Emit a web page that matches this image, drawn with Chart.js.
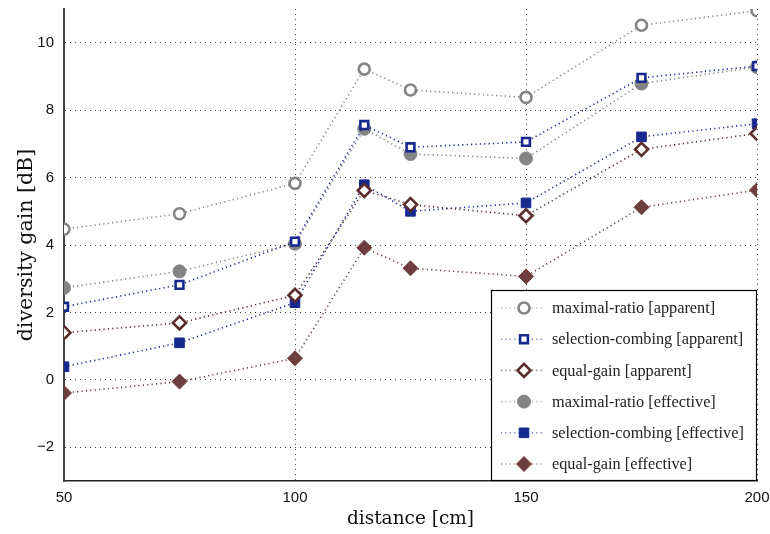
<!DOCTYPE html>
<html>
<head>
<meta charset="utf-8">
<script src="https://cdn.jsdelivr.net/npm/chart.js@4/dist/chart.umd.min.js"></script>
<style>
  html, body { margin: 0; padding: 0; background: #fff; }
  #wrap { width: 770px; height: 534px; position: relative; }
</style>
</head>
<body>
<div id="wrap"><canvas id="chart"></canvas></div>
<script>
// datos
const distancias = [50, 75, 100, 115, 125, 150, 175, 200];
const ticksX = [50, 100, 150, 200];
const ticksY = [-2, 0, 2, 4, 6, 8, 10];

const mrAparente = [4.47, 4.93, 5.83, 9.22, 8.6, 8.38, 10.52, 10.95];
const scAparente = [2.17, 2.82, 4.1, 7.56, 6.9, 7.06, 8.96, 9.31];
const egAparente = [1.4, 1.69, 2.51, 5.62, 5.2, 4.87, 6.84, 7.31];
const mrEfectivo = [2.73, 3.22, 4.04, 7.45, 6.7, 6.57, 8.79, 9.28];
const scEfectivo = [0.39, 1.1, 2.29, 5.79, 5.0, 5.25, 7.21, 7.6];
const egEfectivo = [-0.39, -0.05, 0.64, 3.92, 3.31, 3.07, 5.12, 5.63];

const etiquetas = [
  'maximal-ratio [apparent]',
  'selection-combing [apparent]',
  'equal-gain [apparent]',
  'maximal-ratio [effective]',
  'selection-combing [effective]',
  'equal-gain [effective]'
];

const gris = '#848484';
const azul = '#16298f';
const marronOsc = '#5a2c2c';
const marron = '#6e3e3e';

function puntos(vals) {
  return distancias.map((x, i) => ({ x, y: vals[i] }));
}

function serie(label, vals, color, estilo, hueco, radio) {
  return {
    label,
    data: puntos(vals),
    borderColor: color,
    backgroundColor: color,
    borderWidth: 1.6,
    borderDash: [1.2, 3.2],
    pointStyle: estilo,
    pointRadius: radio,
    pointBackgroundColor: hueco ? '#fff' : color,
    pointBorderColor: color,
    pointBorderWidth: hueco ? 2.6 : 1,
    tension: 0,
    fill: false
  };
}

const datasets = [
  serie(etiquetas[0], mrAparente, gris, 'circle', true, 5.5),
  serie(etiquetas[1], scAparente, azul, 'rect', true, 5.5),
  serie(etiquetas[2], egAparente, marronOsc, 'rectRot', true, 6.5),
  serie(etiquetas[3], mrEfectivo, gris, 'circle', false, 6.5),
  serie(etiquetas[4], scEfectivo, azul, 'rect', false, 6.8),
  serie(etiquetas[5], egEfectivo, marron, 'rectRot', false, 7.5)
];

// leyenda dentro del area
const leyendaPlugin = {
  id: 'leyendaCaja',
  afterDraw(chart) {
    const ctx = chart.ctx;
    const area = chart.chartArea;
    const w = 266, h = 191;
    const x0 = area.right - w, y0 = area.bottom - h;
    ctx.save();
    ctx.fillStyle = '#fff';
    ctx.fillRect(x0, y0, w, h);
    ctx.strokeStyle = '#000';
    ctx.lineWidth = 1.2;
    ctx.strokeRect(x0 + 0.5, y0 + 0.5, w - 1, h - 1);
    ctx.font = '16.3px "Liberation Serif", "DejaVu Serif", serif';
    ctx.textBaseline = 'middle';
    chart.data.datasets.forEach((ds, i) => {
      const y = y0 + 18 + i * 31.2;
      ctx.strokeStyle = ds.borderColor;
      ctx.globalAlpha = 0.6;
      ctx.lineWidth = 1.6;
      ctx.setLineDash([1.2, 3.2]);
      ctx.beginPath();
      ctx.moveTo(x0 + 10, y);
      ctx.lineTo(x0 + 52, y);
      ctx.stroke();
      ctx.setLineDash([]);
      ctx.globalAlpha = 1;
      ctx.fillStyle = ds.pointBackgroundColor;
      ctx.strokeStyle = ds.pointBorderColor;
      ctx.lineWidth = ds.pointBorderWidth;
      Chart.helpers.drawPoint(ctx, { pointStyle: ds.pointStyle, radius: ds.pointRadius, rotation: 0, borderWidth: ds.pointBorderWidth }, x0 + 33, y);
      ctx.fillStyle = '#222';
      ctx.fillText(ds.label, x0 + 61, y + 1);
    });
    ctx.restore();
  }
};

const fuenteTicks = { family: '"Liberation Sans", Arial, sans-serif', size: 15 };
const serif = '"DejaVu Serif", "Liberation Serif", serif';
const rejilla = {
  color: '#444',
  lineWidth: 1,
  tickLength: 0,
  drawTicks: false
};

new Chart(document.getElementById('chart'), {
  type: 'line',
  data: { datasets },
  options: {
    responsive: true,
    maintainAspectRatio: false,
    animation: false,
    layout: { padding: { top: 8, right: 13, left: 0, bottom: 0 } },
    plugins: {
      legend: { display: false },
      tooltip: { enabled: false }
    },
    scales: {
      x: {
        type: 'linear',
        min: 50,
        max: 200,
        afterBuildTicks(scale) {
          scale.ticks = ticksX.map(v => ({ value: v }));
        },
        afterFit(scale) {
          scale.height = 53;
          scale.paddingLeft = 0;
          scale.paddingRight = 0;
        },
        grid: Object.assign({}, rejilla),
        border: { display: true, color: '#222', width: 1.5, dash: [1, 4] },
        ticks: { color: '#111', font: fuenteTicks, padding: 8, maxRotation: 0 },
        title: { display: true, text: 'distance [cm]', color: '#111', font: { family: serif, size: 18.5 }, padding: { top: 0, bottom: 4 } }
      },
      y: {
        min: -3,
        max: 11,
        afterBuildTicks(scale) {
          scale.ticks = ticksY.map(v => ({ value: v }));
        },
        afterFit(scale) {
          scale.width = 64;
          scale.paddingTop = 0;
          scale.paddingBottom = 0;
        },
        grid: Object.assign({}, rejilla),
        border: { display: true, color: '#444', width: 2, dash: [1, 4] },
        ticks: {
          color: '#111', font: fuenteTicks, padding: 10,
          callback: v => (v < 0 ? '\u2212' + Math.abs(v) : String(v))
        },
        title: { display: true, text: 'diversity gain [dB]', color: '#111', font: { family: serif, size: 20.5 }, padding: { top: 14, bottom: 4 } }
      }
    }
  },
  plugins: [leyendaPlugin]
});
</script>
</body>
</html>
